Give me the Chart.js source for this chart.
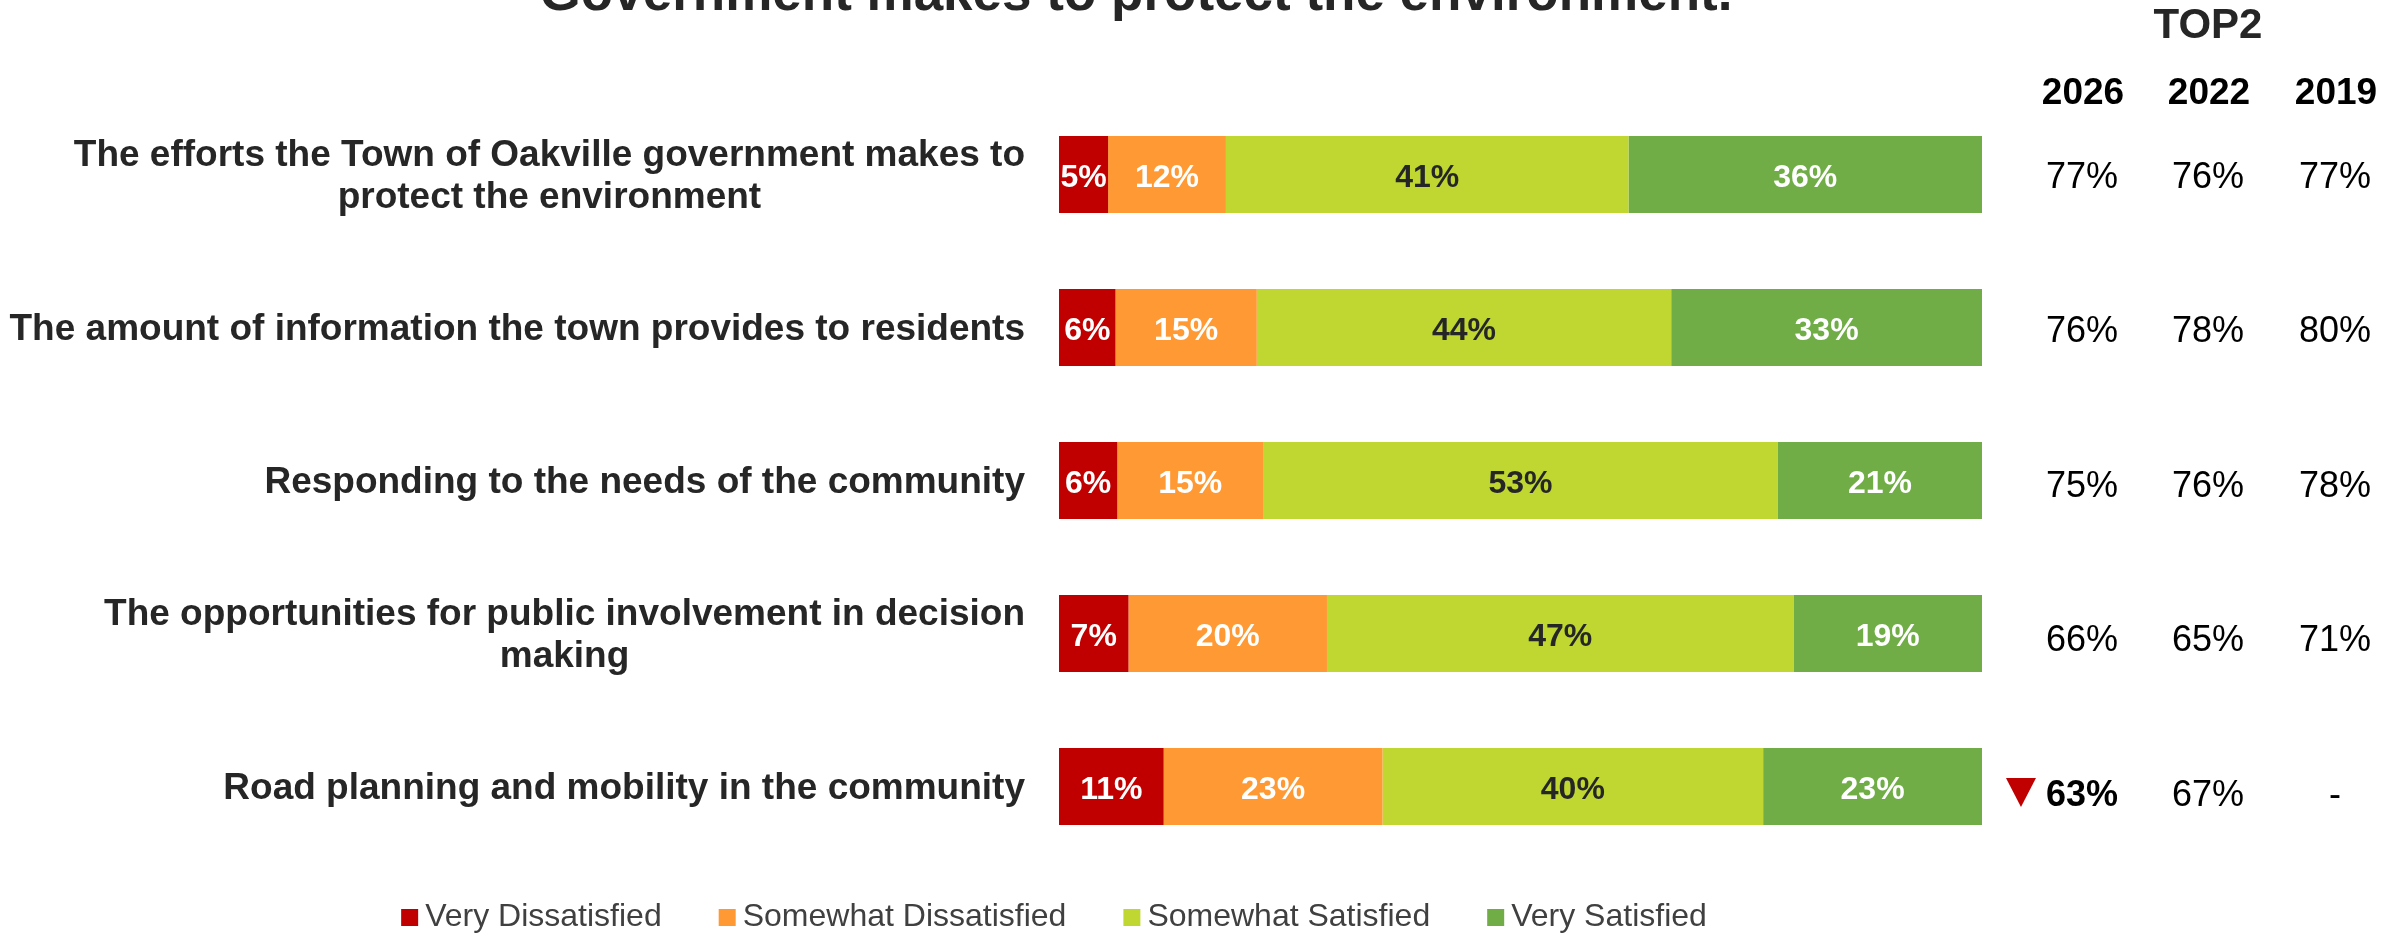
<!DOCTYPE html>
<html>
<head>
<meta charset="utf-8">
<title>Satisfaction with the Town of Oakville</title>
<script src="https://cdn.jsdelivr.net/npm/chart.js@4"></script>
<style>
  html, body { margin: 0; padding: 0; background: #ffffff; }
  #wrap { width: 2381px; height: 933px; }
</style>
</head>
<body>
<div id="wrap"><canvas id="satisfactionChart" width="2381" height="933"></canvas></div>
<script>
// ========== Data ==========
const categories = [
  ['The efforts the Town of Oakville government makes to', 'protect the environment'],
  'The amount of information the town provides to residents',
  'Responding to the needs of the community',
  ['The opportunities for public involvement in decision', 'making'],
  'Road planning and mobility in the community'
];
const seriesNames = ['Very Dissatisfied', 'Somewhat Dissatisfied', 'Somewhat Satisfied', 'Very Satisfied'];
const veryDissatisfied = [5, 6, 6, 7, 11];
const somewhatDissatisfied = [12, 15, 15, 20, 23];
const somewhatSatisfied = [41, 44, 53, 47, 40];
const verySatisfied = [36, 33, 21, 19, 23];

const yearLabels = ['2026', '2022', '2019'];
const top2_2026 = [77, 76, 75, 66, 63];
const top2_2022 = [76, 78, 76, 65, 67];
const top2_2019 = [77, 80, 78, 71, null];
const significantDrop = [false, false, false, false, true];

const colors = ['#C00000', '#FF9933', '#BFD730', '#70AD47'];
const labelColors = ['#FFFFFF', '#FFFFFF', '#262626', '#FFFFFF'];

const FONT = "'Liberation Sans', Arial, sans-serif";
const series = [veryDissatisfied, somewhatDissatisfied, somewhatSatisfied, verySatisfied];

// bars show each answer as a share of everyone who answered the item
const rowTotals = categories.map((_, i) => series.reduce((sum, arr) => sum + arr[i], 0));
const toShare = arr => arr.map((v, i) => v / rowTotals[i] * 100);

// ========== Plugins ==========
const titlePlugin = {
  id: 'titleLine',
  afterDraw(chart) {
    const c = chart.ctx;
    c.save();
    c.font = 'bold 53px ' + FONT;
    c.fillStyle = '#262626';
    c.textAlign = 'center';
    c.textBaseline = 'alphabetic';
    c.fillText('Government makes to protect the environment.', 1136, 10);
    c.restore();
  }
};

// category names: block right-aligned to the bars, lines centred on each other
const categoryLabels = {
  id: 'categoryLabels',
  afterDraw(chart) {
    const c = chart.ctx;
    const y = chart.scales.y;
    const right = chart.chartArea.left - 34;
    c.save();
    c.font = 'bold 37px ' + FONT;
    c.fillStyle = '#262626';
    c.textBaseline = 'alphabetic';
    c.textAlign = 'center';
    categories.forEach((label, i) => {
      const lines = Array.isArray(label) ? label : [label];
      const blockW = Math.max(...lines.map(l => c.measureText(l).width));
      const cx = right - blockW / 2;
      const cy = y.getPixelForValue(i);
      lines.forEach((line, k) => {
        const mid = cy - 1 + (k - (lines.length - 1) / 2) * 42;
        c.fillText(line, cx, mid + 13.3);
      });
    });
    c.restore();
  }
};

// percent labels inside every segment
const segmentLabels = {
  id: 'segmentLabels',
  afterDatasetsDraw(chart) {
    const c = chart.ctx;
    c.save();
    c.font = 'bold 32px ' + FONT;
    c.textAlign = 'center';
    c.textBaseline = 'alphabetic';
    chart.data.datasets.forEach((ds, d) => {
      chart.getDatasetMeta(d).data.forEach((bar, i) => {
        c.fillStyle = labelColors[d];
        c.fillText(series[d][i] + '%', (bar.x + bar.base) / 2, bar.y + 12);
      });
    });
    c.restore();
  }
};

// TOP2 table on the right
const top2Table = {
  id: 'top2Table',
  afterDraw(chart) {
    const c = chart.ctx;
    const y = chart.scales.y;
    const cols = [2082, 2208, 2335];
    const values = [top2_2026, top2_2022, top2_2019];
    c.save();
    c.textAlign = 'center';
    c.textBaseline = 'alphabetic';

    c.font = 'bold 42px ' + FONT;
    c.fillStyle = '#262626';
    c.fillText('TOP2', 2208, 38);

    c.font = 'bold 37px ' + FONT;
    c.fillStyle = '#000000';
    yearLabels.forEach((yr, k) => c.fillText(yr, cols[k] + 1, 104));

    categories.forEach((_, i) => {
      const mid = y.getPixelForValue(i) + i * 1.5;
      values.forEach((arr, k) => {
        const v = arr[i];
        const bold = k === 0 && significantDrop[i];
        c.font = (bold ? 'bold ' : '') + '36px ' + FONT;
        c.fillStyle = '#000000';
        const text = v === null ? '-' : v + '%';
        c.fillText(text, cols[k], mid + 13);
        if (bold) {
          const w = c.measureText(text).width;
          const r = cols[k] - w / 2 - 10;
          c.fillStyle = '#C00000';
          c.beginPath();
          c.moveTo(r - 30, mid - 14.5);
          c.lineTo(r, mid - 14.5);
          c.lineTo(r - 15, mid + 14.5);
          c.closePath();
          c.fill();
        }
      });
    });
    c.restore();
  }
};

// legend row under the bars
const legendRow = {
  id: 'legendRow',
  afterDraw(chart) {
    const c = chart.ctx;
    const box = 17, textGap = 7, itemGap = 57;
    c.save();
    c.font = '32px ' + FONT;
    c.textAlign = 'left';
    c.textBaseline = 'alphabetic';
    const widths = chart.data.datasets.map(ds => box + textGap + c.measureText(ds.label).width);
    const total = widths.reduce((a, b) => a + b, 0) + itemGap * (widths.length - 1);
    let x = 1054 - total / 2;
    chart.data.datasets.forEach((ds, d) => {
      c.fillStyle = ds.backgroundColor;
      c.fillRect(x, 909, box, box);
      c.fillStyle = '#404040';
      c.fillText(ds.label, x + box + textGap, 926);
      x += widths[d] + itemGap;
    });
    c.restore();
  }
};

// ========== Chart ==========
const ctx = document.getElementById('satisfactionChart').getContext('2d');
const satisfactionChart = new Chart(ctx, {
  type: 'bar',
  data: {
    labels: categories,
    datasets: series.map((arr, d) => ({
      label: seriesNames[d],
      data: toShare(arr),
      backgroundColor: colors[d],
      borderWidth: 0,
      categoryPercentage: 1,
      barPercentage: 0.503
    }))
  },
  options: {
    indexAxis: 'y',
    responsive: false,
    animation: false,
    devicePixelRatio: 1,
    layout: { padding: { left: 1059, right: 399, top: 98, bottom: 70 } },
    scales: {
      x: { stacked: true, min: 0, max: 100, display: false },
      y: { stacked: true, display: false }
    },
    plugins: {
      legend: { display: false },
      tooltip: { enabled: false }
    }
  },
  plugins: [titlePlugin, categoryLabels, segmentLabels, top2Table, legendRow]
});
</script>
</body>
</html>
